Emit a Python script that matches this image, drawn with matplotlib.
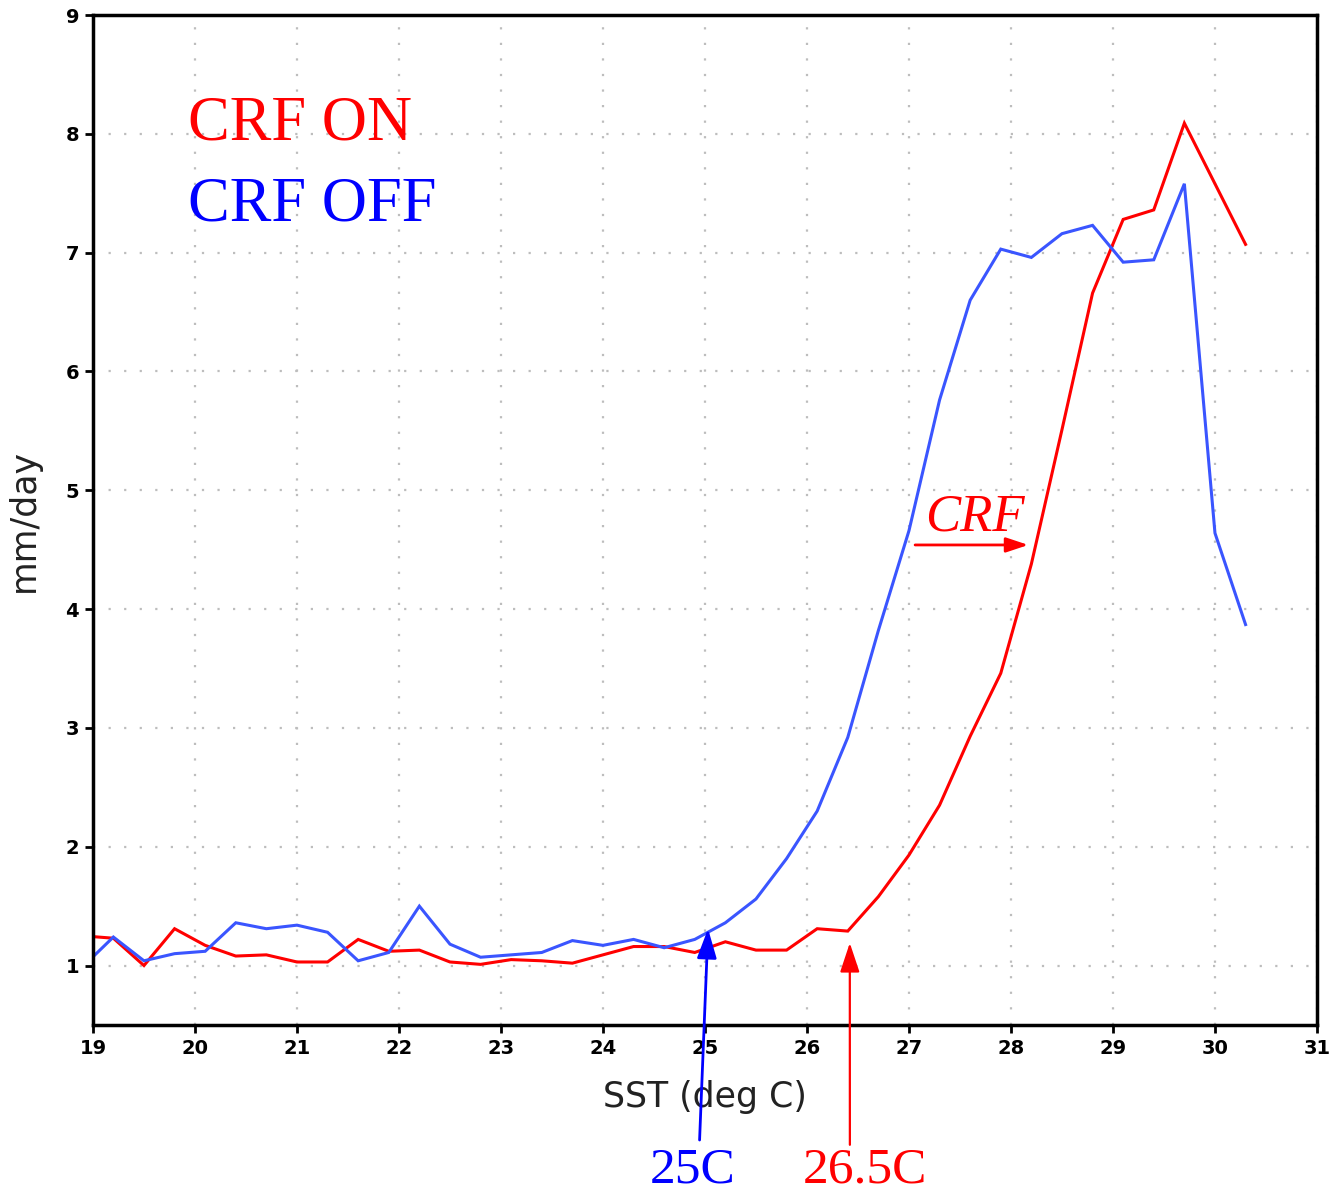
import numpy as np
import matplotlib
matplotlib.use("Agg")
import matplotlib.pyplot as plt

# SST bins (deg C), 0.3 deg spacing
sst = [round(18.9 + 0.3 * k, 1) for k in range(39)]

# Mean precipitation (mm/day) per SST bin
precip_crf_on = [1.25, 1.23, 1.00, 1.31, 1.17, 1.08, 1.09, 1.03, 1.03, 1.22,
                 1.12, 1.13, 1.03, 1.01, 1.05, 1.04, 1.02, 1.09, 1.16, 1.16,
                 1.11, 1.20, 1.13, 1.13, 1.31, 1.29, 1.58, 1.93, 2.35, 2.93,
                 3.46, 4.38, 5.51, 6.66, 7.28, 7.36, 8.09, 7.58, 7.07]
precip_crf_off = [0.99, 1.24, 1.04, 1.10, 1.12, 1.36, 1.31, 1.34, 1.28, 1.04,
                  1.11, 1.50, 1.18, 1.07, 1.09, 1.11, 1.21, 1.17, 1.22, 1.15,
                  1.22, 1.36, 1.56, 1.90, 2.30, 2.92, 3.82, 4.66, 5.76, 6.60,
                  7.03, 6.96, 7.16, 7.23, 6.92, 6.94, 7.58, 4.64, 3.87]

x_ticks = list(range(19, 32))
y_ticks = list(range(1, 10))

RED = "#ff0000"
LINE_BLUE = "#3a55ff"
TEXT_BLUE = "#0000ff"
SERIF = "Liberation Serif"

fig = plt.figure(figsize=(13.3, 11.95), dpi=100)
ax = fig.add_axes([0.0699, 0.1423, 0.9203, 0.8451])

ax.plot(sst, precip_crf_on, color=RED, lw=2.2, solid_joinstyle="miter")
ax.plot(sst, precip_crf_off, color=LINE_BLUE, lw=2.2, solid_joinstyle="miter")

ax.set_xlim(19, 31)
ax.set_ylim(0.5, 9)
ax.set_xticks(x_ticks)
ax.set_yticks(y_ticks)
ax.set_xticklabels([str(t) for t in x_ticks], fontweight="bold", fontsize=14)
ax.set_yticklabels([str(t) for t in y_ticks], fontweight="bold", fontsize=14)
ax.tick_params(direction="out", length=6, width=2, pad=4, colors="black")

ax.grid(True, color="#bdbdbd", linestyle=(0, (1, 6)), linewidth=1.6)
for s in ax.spines.values():
    s.set_linewidth(2.5)
    s.set_color("black")

ax.set_xlabel("SST (deg C)", fontsize=25, labelpad=16, color="#222222")
ax.set_ylabel("mm/day", fontsize=25, labelpad=18, color="#222222")

# Experiment labels
ax.text(19.93, 7.95, "CRF ON", color=RED, fontsize=45, family=SERIF,
        ha="left", va="baseline")
ax.text(19.93, 7.27, "CRF OFF", color=TEXT_BLUE, fontsize=45, family=SERIF,
        ha="left", va="baseline")

# Shift of the precipitation onset by cloud-radiative forcing
ax.text(27.16, 4.66, "CRF", color=RED, fontsize=38, family=SERIF,
        style="italic", ha="left", va="baseline")
ax.annotate("", xy=(28.17, 4.54), xytext=(27.06, 4.54),
            arrowprops=dict(arrowstyle="-|>,head_length=0.9,head_width=0.3",
                            mutation_scale=15, color=RED, lw=2,
                            shrinkA=0, shrinkB=0))

# Onset thresholds
ax.annotate("", xy=(25.03, 1.31), xytext=(0.526, 0.046),
            textcoords="figure fraction",
            arrowprops=dict(arrowstyle="-|>,head_length=1.2,head_width=0.4",
                            mutation_scale=15, color=TEXT_BLUE, lw=2,
                            shrinkA=0, shrinkB=0))
ax.annotate("", xy=(26.42, 1.19), xytext=(0.639, 0.042),
            textcoords="figure fraction",
            arrowprops=dict(arrowstyle="-|>,head_length=1.2,head_width=0.4",
                            mutation_scale=15, color=RED, lw=1.6,
                            shrinkA=0, shrinkB=0))
fig.text(0.521, 0.0105, "25C", color=TEXT_BLUE, fontsize=37, family=SERIF,
         ha="center", va="baseline")
fig.text(0.650, 0.0105, "26.5C", color=RED, fontsize=37, family=SERIF,
         ha="center", va="baseline")

fig.savefig("out.png", dpi=100)
